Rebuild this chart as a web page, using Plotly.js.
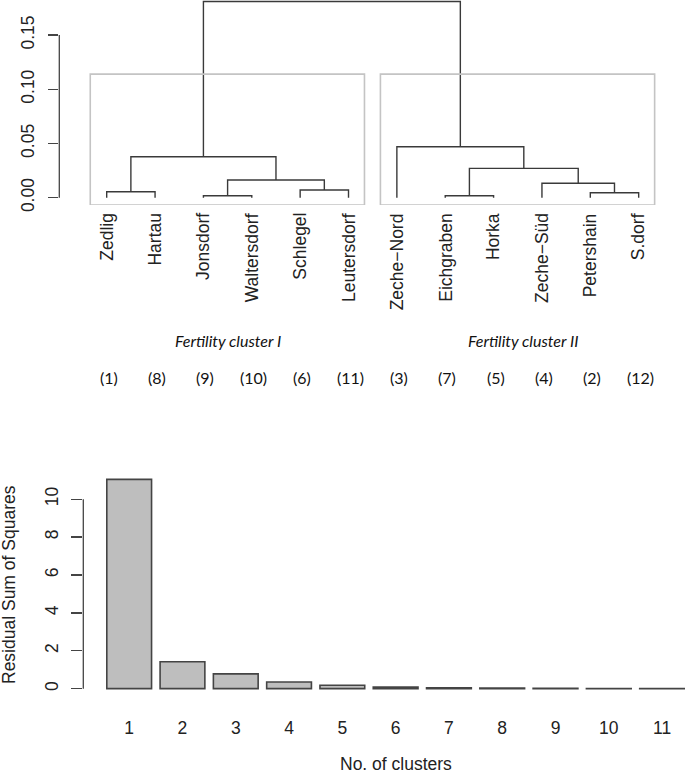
<!DOCTYPE html>
<html>
<head>
<meta charset="utf-8">
<script src="https://cdn.plot.ly/plotly-3.0.1.min.js"></script>
<style>html,body{margin:0;padding:0;background:#fff}#chart{width:685px;height:775px}</style>
</head>
<body>
<div id="chart"></div>
<script>
// ---------- data ----------
// Dendrogram leaves in display order
const leafLabels = ['Zedlig','Hartau','Jonsdorf','Waltersdorf','Schlegel','Leutersdorf',
  'Zeche\u2212Nord','Eichgraben','Horka','Zeche\u2212Süd','Petershain','S.dorf'];
const leafIds = ['(1)','(8)','(9)','(10)','(6)','(11)','(3)','(7)','(5)','(4)','(2)','(12)'];
// hclust-style merge table (negative = leaf position, positive = earlier merge)
const mergeLeft  = [-3, -8, -11, -1, -5, -10, 1, 2, 4, -7, 9];
const mergeRight = [-4, -9, -12, -2, -6,   3, 5, 6, 7,  8, 10];
const mergeHeight = [0.0018, 0.0018, 0.0046, 0.0055, 0.0071, 0.0133, 0.0163, 0.0271, 0.0378, 0.047, 0.181];
const clusterNames = ['Fertility cluster I', 'Fertility cluster II'];
const dendroTicks = [0, 0.05, 0.10, 0.15];

// Scree / bar chart
const nClusters = [1,2,3,4,5,6,7,8,9,10,11];
const rss = [11.05, 1.42, 0.78, 0.35, 0.18, 0.08, 0.05, 0.03, 0.02, 0.01, 0.005];
const rssTicks = [0,2,4,6,8,10];

// ---------- layout helpers ----------
const W = 685, H = 775;
const py = p => 1 - p / H;
const px = p => p / W;
const FONT = 'Liberation Sans, Arial, sans-serif';
const TXT = '#222';

// ---------- dendrogram segments ----------
const pos = {}, hgt = {};
function node(id) { // returns [x, y]
  if (id < 0) return [-id, 0];
  return [pos[id], hgt[id]];
}
const dx = [], dy = [];
for (let i = 0; i < mergeHeight.length; i++) {
  const a = node(mergeLeft[i]), b = node(mergeRight[i]);
  const h = mergeHeight[i];
  dx.push(a[0], a[0], b[0], b[0], null);
  dy.push(a[1], h, h, b[1], null);
  pos[i + 1] = (a[0] + b[0]) / 2;
  hgt[i + 1] = h;
}
// cluster sizes from the last merge
function countLeaves(id) { return id < 0 ? 1 : countLeaves(mergeLeft[id-1]) + countLeaves(mergeRight[id-1]); }
const nM = mergeHeight.length;
const sizes = [countLeaves(mergeLeft[nM-1]), countLeaves(mergeRight[nM-1])];
const boxTop = (mergeHeight[nM-1] + mergeHeight[nM-2]) / 2;

const yRange1 = [-0.00673, 0.1824];
const xRange1 = [0.0198, 12.958];

const shapes = [];
let start = 0;
sizes.forEach(s => {
  shapes.push({type:'rect', xref:'x', yref:'y', x0: start + 0.66, x1: start + s + 0.33,
    y0: yRange1[0], y1: boxTop, line:{color:'#c4c4c4', width:1.6}, fillcolor:'rgba(0,0,0,0)'});
  start += s;
});
// R style axis lines spanning only the tick range
shapes.push({type:'line', xref:'x domain', yref:'y', x0:0, x1:0, y0:dendroTicks[0], y1:dendroTicks[dendroTicks.length-1], line:{color:'#444', width:1.3}});
shapes.push({type:'line', xref:'x2 domain', yref:'y2', x0:0, x1:0, y0:rssTicks[0], y1:rssTicks[rssTicks.length-1], line:{color:'#444', width:1.3}});

const annotations = [];
leafLabels.forEach((t, i) => annotations.push({
  text: t, xref:'x', yref:'paper', x: i + 1, y: py(211), xanchor:'center', yanchor:'top',
  textangle:-90, showarrow:false, font:{family:FONT, size:17.5, color:TXT}
}));
// cluster names centred under each group
start = 0;
clusterNames.forEach((t, k) => {
  const c = start + (sizes[k] + 1) / 2 + (k === 1 ? 0.1 : 0);
  annotations.push({text: '<i>' + t + '</i>', xref:'x', yref:'paper', x: c, y: py(340),
    xanchor:'center', yanchor:'middle', showarrow:false, font:{family:'Lato, sans-serif', size:16, color:'#111'}});
  start += sizes[k];
});
leafIds.forEach((t, i) => annotations.push({
  text: t, xref:'x', yref:'paper', x: i + 1 + 0.04, y: py(377), xanchor:'center', yanchor:'middle',
  showarrow:false, font:{family:'Lato, sans-serif', size:16, color:'#111'}
}));
// bar chart titles
annotations.push({text:'No. of clusters', xref:'paper', yref:'paper', x: px(396), y: py(764),
  xanchor:'center', yanchor:'middle', showarrow:false, font:{family:FONT, size:17.5, color:TXT}});
annotations.push({text:'Residual Sum of Squares', xref:'paper', yref:'paper', x: px(9), y: py(585),
  xanchor:'center', yanchor:'middle', textangle:-90, showarrow:false, font:{family:FONT, size:17.5, color:TXT}});

const traces = [
  {type:'scatter', mode:'lines', x: dx, y: dy, xaxis:'x', yaxis:'y', cliponaxis:false,
   line:{color:'#3a3a3a', width:1.4}, hoverinfo:'skip', showlegend:false},
  {type:'bar', x: nClusters, y: rss, xaxis:'x2', yaxis:'y2', width:0.84,
   marker:{color:'#bebebe', line:{color:'#444', width:1.6}}, showlegend:false}
];

const layout = {
  width: W, height: H, margin:{l:0, r:0, t:0, b:0},
  paper_bgcolor:'#fff', plot_bgcolor:'#fff', showlegend:false,
  font:{family:FONT, color:TXT},
  xaxis:{domain:[px(59.3), 1], range:xRange1, showgrid:false, zeroline:false, showline:false,
    showticklabels:false, ticks:''},
  yaxis:{domain:[py(205), 1], range:yRange1, showgrid:false, zeroline:false, showline:false,
    tickvals:dendroTicks, ticktext:dendroTicks.map(v => v.toFixed(2)), ticks:'outside', ticklen:10,
    tickwidth:1.3, tickcolor:'#444', tickangle:-90, ticklabelstandoff:7,
    tickfont:{family:FONT, size:17.5, color:TXT}},
  xaxis2:{domain:[px(83.3), 1], range:[0.139, 11.43], anchor:'y2', showgrid:false, zeroline:false,
    showline:false, ticks:'', tickvals:nClusters, ticktext:nClusters.map(String), ticklabelstandoff:18,
    tickfont:{family:FONT, size:17.5, color:TXT}},
  yaxis2:{domain:[py(697), py(471)], range:[-0.44, 11.49], anchor:'x2', showgrid:false, zeroline:false,
    showline:false, tickvals:rssTicks, ticktext:rssTicks.map(String), ticks:'outside', ticklen:11,
    tickwidth:1.3, tickcolor:'#444', tickangle:-90, ticklabelstandoff:6,
    tickfont:{family:FONT, size:17.5, color:TXT}},
  shapes: shapes,
  annotations: annotations
};

Plotly.newPlot('chart', traces, layout, {staticPlot:true, displayModeBar:false});
</script>
</body>
</html>
